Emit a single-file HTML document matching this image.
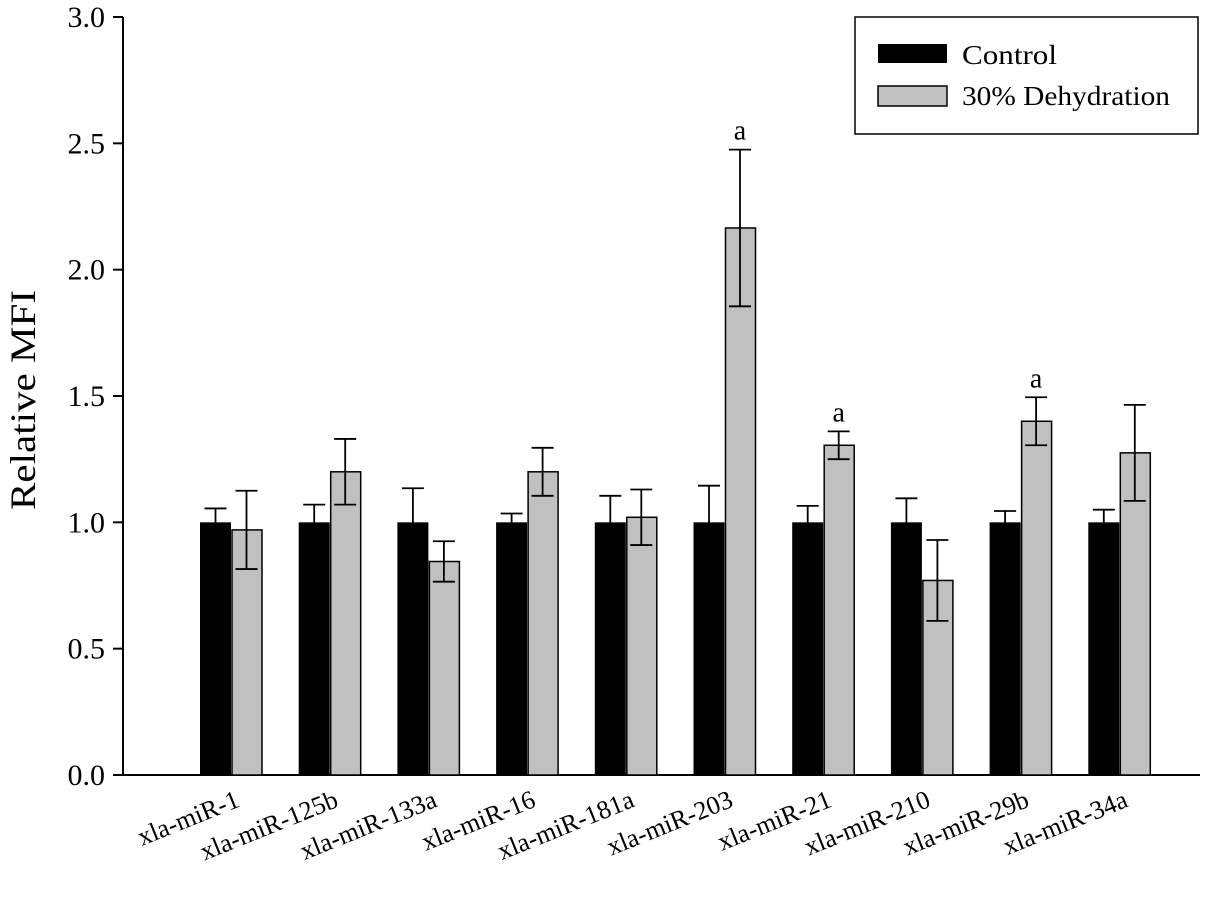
<!DOCTYPE html>
<html><head><meta charset="utf-8"><style>
body{margin:0;background:#fff}
svg text{font-family:"Liberation Serif",serif;fill:#000}
</style></head><body>
<svg id="chart" width="1221" height="897"></svg>
<script>
const categories=["xla-miR-1","xla-miR-125b","xla-miR-133a","xla-miR-16","xla-miR-181a","xla-miR-203","xla-miR-21","xla-miR-210","xla-miR-29b","xla-miR-34a"];
const controlValues=[1,1,1,1,1,1,1,1,1,1];
const controlErrors=[0.055,0.07,0.135,0.035,0.105,0.145,0.065,0.095,0.045,0.05];
const dehydValues=[0.97,1.20,0.845,1.20,1.02,2.165,1.305,0.77,1.40,1.275];
const dehydErrors=[0.155,0.13,0.08,0.095,0.11,0.31,0.055,0.16,0.095,0.19];
const significant=["","","","","","a","a","","a",""];
const yTicks=[0,0.5,1,1.5,2,2.5,3];
const yTickLabels=["0.0","0.5","1.0","1.5","2.0","2.5","3.0"];
const NS="http://www.w3.org/2000/svg";
const svg=document.getElementById('chart');
function mk(t,a,p){const e=document.createElementNS(NS,t);for(const k in a)e.setAttribute(k,a[k]);(p||svg).appendChild(e);return e;}
const x0=123,y0=775,yTop=17,xEnd=1200;
function y(v){return y0-(v/3)*(y0-yTop);}
function gx(i){return 200+i*98.7;}
const bw=31;
let ax=mk('line',{x1:x0,y1:y0,x2:xEnd,y2:y0,stroke:'#000','stroke-width':2});

ax=mk('line',{x1:x0,y1:yTop,x2:x0,y2:y0+1,stroke:'#000','stroke-width':2});

yTicks.forEach((v,i)=>{
 const t=mk('line',{x1:x0-10,y1:y(v),x2:x0,y2:y(v),stroke:'#000','stroke-width':2});
 
 const l=mk('text',{x:105,y:y(v)+10,'text-anchor':'end','font-size':30});
 l.textContent=yTickLabels[i];
 
});
const yt=mk('text',{x:0,y:0,'font-size':36,'text-anchor':'middle',textLength:220,lengthAdjust:'spacingAndGlyphs',transform:'translate(35,400) rotate(-90)'});
yt.textContent='Relative MFI';

function errBar(cx,v,e){
 const g=mk('g',{stroke:'#000','stroke-width':1.8});
 mk('line',{x1:cx,y1:y(v+e),x2:cx,y2:y(v-e)},g);
 mk('line',{x1:cx-11,y1:y(v+e),x2:cx+11,y2:y(v+e)},g);
 mk('line',{x1:cx-11,y1:y(v-e),x2:cx+11,y2:y(v-e)},g);
 return g;
}
categories.forEach((c,i)=>{
 const x=gx(i);
 let b=mk('rect',{x:x,y:y(controlValues[i]),width:bw,height:y0-y(controlValues[i]),fill:'#000'});
 
 let eb=errBar(x+bw/2,controlValues[i],controlErrors[i]);
 
 b=mk('rect',{x:x+bw+1,y:y(dehydValues[i]),width:bw-1,height:y0-y(dehydValues[i]),fill:'#c0c0c0',stroke:'#000','stroke-width':1.5});
 
 eb=errBar(x+bw+bw/2,dehydValues[i],dehydErrors[i]);
 
 if(significant[i]){
  const s=mk('text',{x:x+bw+bw/2,y:y(dehydValues[i]+dehydErrors[i])-10,'text-anchor':'middle','font-size':28});
  s.textContent=significant[i];
  
 }
 const cx=x+bw;
 const l=mk('text',{x:0,y:0,'text-anchor':'end','font-size':26,transform:`translate(${cx+10},${806}) rotate(-22)`});
 l.textContent=c;
 
});
const lg=mk('g',{});

mk('rect',{x:855,y:17,width:343,height:117,fill:'#fff',stroke:'#000','stroke-width':1.5},lg);
let r=mk('rect',{x:878,y:44,width:69,height:19,fill:'#000'},lg);

let t=mk('text',{x:962,y:64,'font-size':27,textLength:95,lengthAdjust:'spacingAndGlyphs'},lg);t.textContent='Control';

r=mk('rect',{x:878,y:86,width:69,height:20,fill:'#c0c0c0',stroke:'#000','stroke-width':1.5},lg);

t=mk('text',{x:962,y:105,'font-size':27,textLength:208,lengthAdjust:'spacingAndGlyphs'},lg);t.textContent='30% Dehydration';

</script>
</body></html>
